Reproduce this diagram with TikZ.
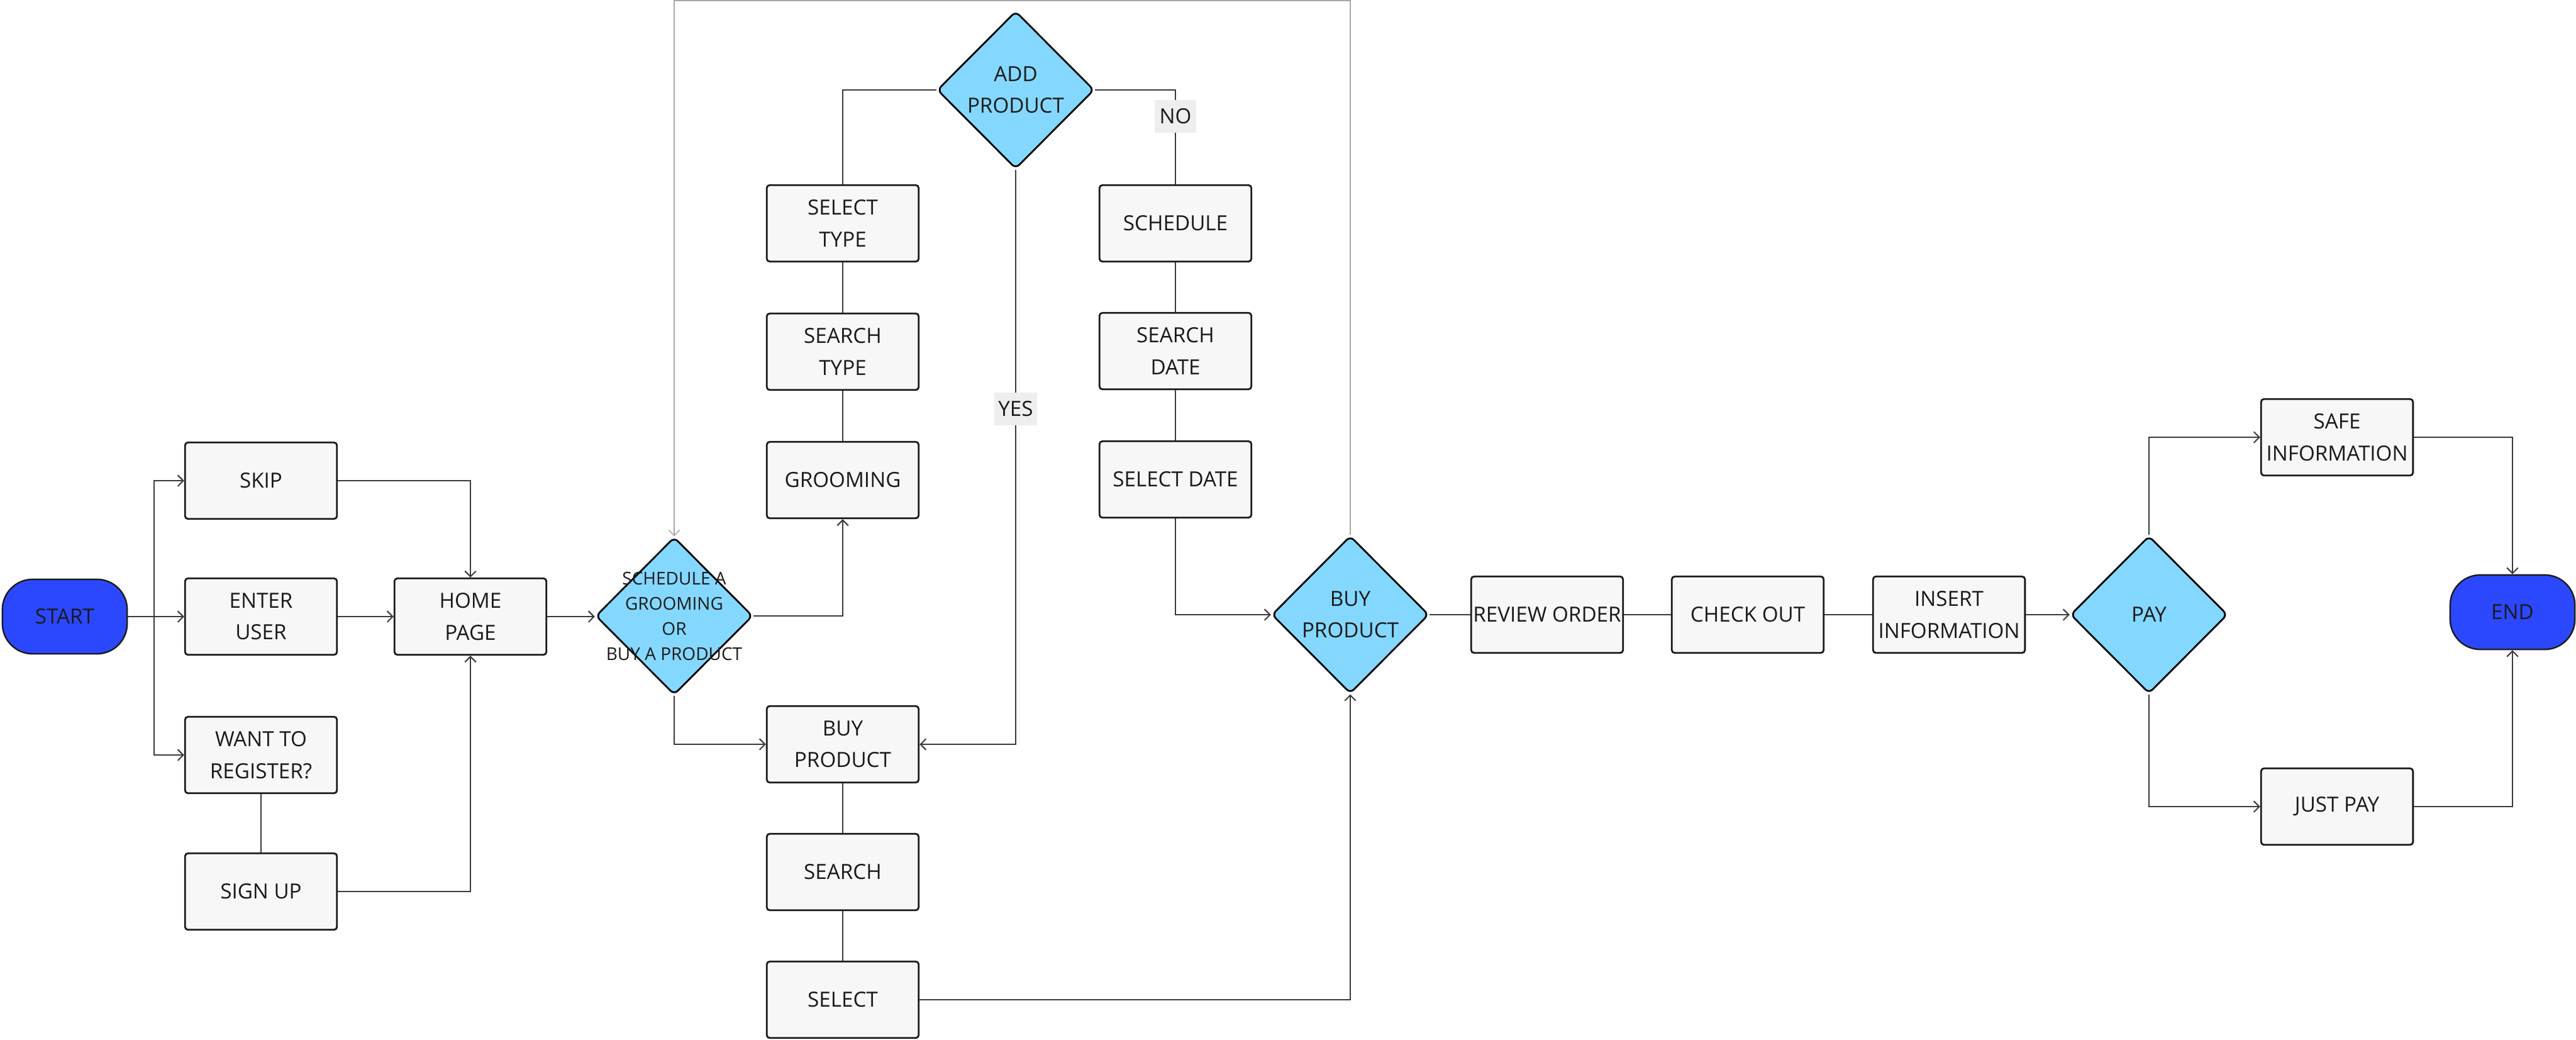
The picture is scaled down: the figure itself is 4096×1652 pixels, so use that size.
\documentclass[tikz,border=0pt]{standalone}
\usepackage{fontspec}
\setmainfont{Open Sans}
\usetikzlibrary{shapes.geometric,arrows.meta}

\definecolor{termblue}{HTML}{2C48FF}
\definecolor{decblue}{HTML}{84D8FF}
\definecolor{boxfill}{HTML}{F7F7F7}
\definecolor{wire}{HTML}{3A3A3A}
\definecolor{loopgray}{HTML}{A8A8A8}
\definecolor{tagfill}{HTML}{EEEEEE}
\definecolor{ink}{HTML}{1A1A1A}

\newcommand{\boxfont}{\fontsize{8.3}{12.6}\selectfont}
\newcommand{\tinyfont}{\fontsize{7}{10}\selectfont}

\begin{document}
\begin{tikzpicture}[x=0.25pt,y=0.25pt,yscale=-1,xscale=1,
  procbox/.style={draw=ink, line width=0.7pt, fill=boxfill, rounded corners=1.2pt,
    minimum width=60.4pt, minimum height=30.4pt, inner sep=0pt, align=center,
    font=\boxfont, text=ink},
  decision/.style={diamond, aspect=1, draw=black, line width=0.7pt, fill=decblue,
    rounded corners=2pt, minimum width=62.4pt, minimum height=62.6pt, inner sep=0pt,
    align=center, font=\boxfont, text=ink},
  terminal/.style={draw=ink, line width=0.6pt, fill=termblue, rounded corners=12pt,
    minimum width=49.6pt, minimum height=29.6pt, inner sep=0pt, font=\boxfont, text=ink},
  flow/.style={draw=wire, line width=0.5pt, -{Straight Barb[length=2.2pt,width=4.4pt]}},
  plain/.style={draw=wire, line width=0.5pt},
  tag/.style={fill=tagfill, inner xsep=1.5pt, inner ysep=0pt, minimum width=16.5pt,
    minimum height=13pt, font=\boxfont, text=ink}]
\useasboundingbox (0,0) rectangle (4096,1652);

% login part
\node[terminal] (start) at (103,980) {START};
\node[procbox] (skip) at (415,764) {SKIP};
\node[procbox] (enter) at (415,980) {ENTER\\USER};
\node[procbox] (register) at (415,1200) {WANT TO\\REGISTER?};
\node[procbox] (signup) at (415,1417) {SIGN UP};
\node[procbox] (home) at (748,980) {HOME\\PAGE};
\coordinate (fork) at (245,980);

% choice
\node[decision, font=\tinyfont] (choose) at (1072,979)
  {\makebox[0pt]{SCHEDULE A}\\\makebox[0pt]{GROOMING}\\\makebox[0pt]{OR}\\\makebox[0pt]{BUY A PRODUCT}};

% grooming column
\node[procbox] (seltype) at (1340,355) {SELECT\\TYPE};
\node[procbox] (searchtype) at (1340,559) {SEARCH\\TYPE};
\node[procbox] (grooming) at (1340,763) {GROOMING};

% product column
\node[procbox] (buybox) at (1340,1183) {BUY\\PRODUCT};
\node[procbox] (search) at (1340,1386) {SEARCH};
\node[procbox] (select) at (1340,1589) {SELECT};

\node[decision] (addprod) at (1615,143) {ADD\\PRODUCT};

% schedule column
\node[procbox] (schedule) at (1869,355) {SCHEDULE};
\node[procbox] (searchdate) at (1869,558) {SEARCH\\DATE};
\node[procbox] (seldate) at (1869,762) {SELECT DATE};

% order part
\node[decision] (buyprod) at (2147,977) {BUY\\PRODUCT};
\node[procbox] (review) at (2460,977) {REVIEW ORDER};
\node[procbox] (checkout) at (2779,977) {CHECK OUT};
\node[procbox] (insert) at (3099,977) {INSERT\\INFORMATION};
\node[decision] (pay) at (3417,977) {PAY};
\node[procbox] (safe) at (3716,695) {SAFE\\INFORMATION};
\node[procbox] (justpay) at (3716,1282) {JUST PAY};
\node[terminal] (end) at (3995,973) {END};
\coordinate (looptop) at (1600,1);

% connectors
\draw[plain] (start.east) -- (fork);
\draw[flow] (fork) |- (skip.west);
\draw[flow] (fork) -- (enter.west);
\draw[flow] (fork) |- (register.west);
\draw[flow] (skip.east) -| (home.north);
\draw[flow] (enter) -- (home);
\draw[plain] (register) -- (signup);
\draw[flow] (signup.east) -| (home.south);
\draw[flow] (home.east) -- (home.east -| choose.west);
\draw[flow] (choose.east) -| (grooming.south);
\draw[flow] (choose.south) |- (buybox.west);
\draw[plain] (grooming) -- (searchtype);
\draw[plain] (searchtype) -- (seltype);
\draw[plain] (seltype.north) |- (addprod.west);
\draw[plain] (addprod.east) -| (schedule.north) node[tag, pos=0.64] (no) {NO};
\draw[flow] (addprod.south) |- (buybox.east) node[tag, pos=0.208] (yes) {YES};
\draw[plain] (schedule) -- (searchdate);
\draw[plain] (searchdate) -- (seldate);
\draw[flow] (seldate.south) |- (buyprod.west);
\draw[plain] (buybox) -- (search);
\draw[plain] (search) -- (select);
\draw[flow] (select.east) -| (buyprod.south);
\draw[line width=0.4pt, draw=loopgray, -{Straight Barb[length=2.2pt,width=4.4pt]}]
  (buyprod.north) |- (looptop) -| (choose.north);
\draw[plain] (buyprod) -- (review);
\draw[plain] (review) -- (checkout);
\draw[plain] (checkout) -- (insert);
\draw[flow] (insert) -- (pay);
\draw[flow] (pay.north) |- (safe.west);
\draw[flow] (pay.south) |- (justpay.west);
\draw[flow] (safe.east) -| (end.north);
\draw[flow] (justpay.east) -| (end.south);

\end{tikzpicture}
\end{document}
